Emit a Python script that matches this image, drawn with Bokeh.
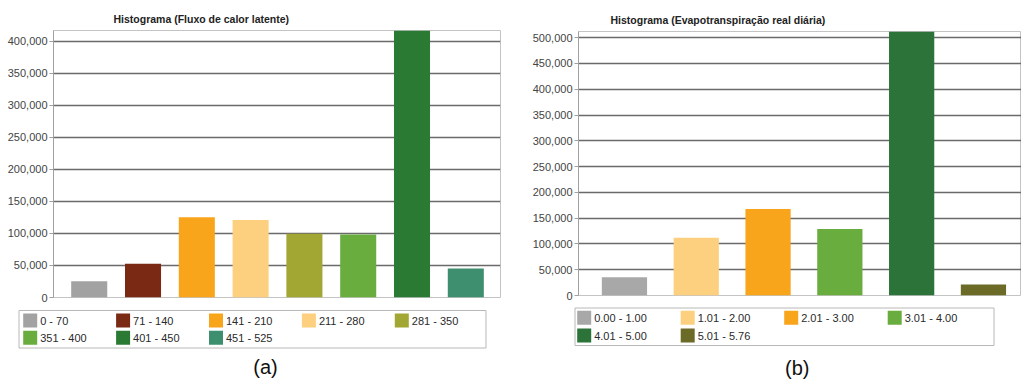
from bokeh.plotting import figure
from bokeh.models import (Range1d, NumeralTickFormatter, SingleIntervalTicker,
                          ColumnDataSource)
from bokeh.core.properties import value
from bokeh.layouts import row, column
from bokeh.embed import file_html
from bokeh.resources import INLINE

# Latent heat flux histogram (W/m2 classes)
lat_classes = ["0 - 70", "71 - 140", "141 - 210", "211 - 280", "281 - 350",
               "351 - 400", "401 - 450", "451 - 525"]
lat_counts = [25500, 52600, 125500, 121000, 99500, 98500, 460000, 45300]
lat_colors = ["#a2a2a2", "#7a2a14", "#f8a51c", "#fdd07f", "#a2a632",
              "#69ad3e", "#2b7a34", "#3e8f6f"]

# Daily actual evapotranspiration histogram (mm/day classes)
et_classes = ["0.00 - 1.00", "1.01 - 2.00", "2.01 - 3.00", "3.01 - 4.00",
              "4.01 - 5.00", "5.01 - 5.76"]
et_counts = [35500, 111800, 168000, 129000, 560000, 21300]
et_colors = ["#a8a8a8", "#fdd07f", "#f8a51c", "#69ad3e", "#2b7338", "#6b6b27"]

FONT = "Liberation Sans"


def bar_chart(title, counts, colors, *, width, height, ymax, x_range, bar_width,
              borders, title_offset):
    left, right, top, bottom = borders
    p = figure(width=width, height=height, x_range=Range1d(*x_range),
               y_range=Range1d(0, ymax), output_backend="svg",
               toolbar_location=None, x_axis_location=None,
               min_border_left=left, min_border_right=right,
               min_border_top=top, min_border_bottom=bottom,
               frame_align=False)
    p.background_fill_color = "white"
    p.border_fill_color = "white"
    p.outline_line_color = "#c4c4c4"
    p.outline_line_width = 1

    p.title.text = title
    p.title.align = "left"
    p.title.offset = title_offset
    p.title.standoff = 12
    p.title.text_font = FONT
    p.title.text_font_size = "10.5px"
    p.title.text_font_style = "bold"
    p.title.text_color = "#222222"

    p.xgrid.visible = False

    ax = p.yaxis[0]
    ax.ticker = SingleIntervalTicker(interval=50000)
    ax.formatter = NumeralTickFormatter(format="0,0")
    ax.major_label_text_font = FONT
    ax.major_label_text_font_size = "11px"
    ax.major_label_text_color = "#444444"
    ax.axis_line_color = "#a0a0a0"
    ax.major_tick_line_color = "#a0a0a0"
    ax.major_tick_in = 0
    ax.major_tick_out = 4
    ax.minor_tick_line_color = None
    ax.major_label_standoff = 2

    p.ygrid.grid_line_color = "#6a6a6a"
    p.ygrid.grid_line_width = 1.5

    src = ColumnDataSource(dict(x=list(range(len(counts))), top=counts,
                                color=colors))
    p.vbar(x="x", top="top", width=bar_width, bottom=0, source=src,
           fill_color="color", line_color=None)
    return p


def legend_panel(classes, colors, caption, *, width, height, box, x0, y0,
                 col_pitch, row_pitch, ncols, caption_xy):
    # pixel-unit canvas below the chart, y grows downward
    p = figure(width=width, height=height, x_range=Range1d(0, width),
               y_range=Range1d(height, 0), output_backend="svg",
               toolbar_location=None, x_axis_location=None,
               y_axis_location=None, min_border=0, frame_align=False)
    p.grid.visible = False
    p.outline_line_color = None
    p.background_fill_color = "white"
    p.border_fill_color = "white"

    bl, br, bt, bb = box
    p.quad(left=[bl], right=[br], top=[bt], bottom=[bb], fill_color="white",
           line_color="#b8b8b8", line_width=1)

    n = len(classes)
    xs = [x0 + (i % ncols) * col_pitch for i in range(n)]
    ys = [y0 + (i // ncols) * row_pitch for i in range(n)]
    src = ColumnDataSource(dict(x=xs, y=ys, tx=[x + 10 for x in xs],
                                color=colors, label=classes))
    p.rect(x="x", y="y", width=14, height=14, source=src, fill_color="color",
           line_color=None)
    p.text(x="tx", y="y", text="label", source=src, text_font=value(FONT),
           text_font_size="11px", text_color="#2a2a2a",
           text_baseline="middle", text_align="left")
    p.text(x=[caption_xy[0]], y=[caption_xy[1]], text=[caption],
           text_font=value(FONT), text_font_size="20px", text_color="#111111",
           text_baseline="middle", text_align="center")
    return p


p1 = bar_chart("Histograma (Fluxo de calor latente)", lat_counts, lat_colors,
               width=510, height=305, ymax=417000, x_range=(-0.664, 7.645),
               bar_width=0.67, borders=(53, 10, 30, 8), title_offset=60)
l1 = legend_panel(lat_classes, lat_colors, "(a)", width=510, height=75,
                  box=(18.5, 485.5, 5, 42.5), x0=29.7, y0=15,
                  col_pitch=92.9, row_pitch=17.3, ncols=5,
                  caption_xy=(265, 61.5))

p2 = bar_chart("Histograma (Evapotranspiração real diária)", et_counts,
               et_colors, width=511, height=303, ymax=512000,
               x_range=(-0.64, 5.53), bar_width=0.63, borders=(68, 0, 31, 8),
               title_offset=32)
l2 = legend_panel(et_classes, et_colors, "(b)", width=511, height=77,
                  box=(64.5, 483.5, 4.5, 42), x0=73.7, y0=14.3,
                  col_pitch=103.5, row_pitch=17.7, ncols=4,
                  caption_xy=(286.7, 64))

layout = row(column(p1, l1), column(p2, l2))
open("out.html", "w").write(file_html(layout, INLINE))
